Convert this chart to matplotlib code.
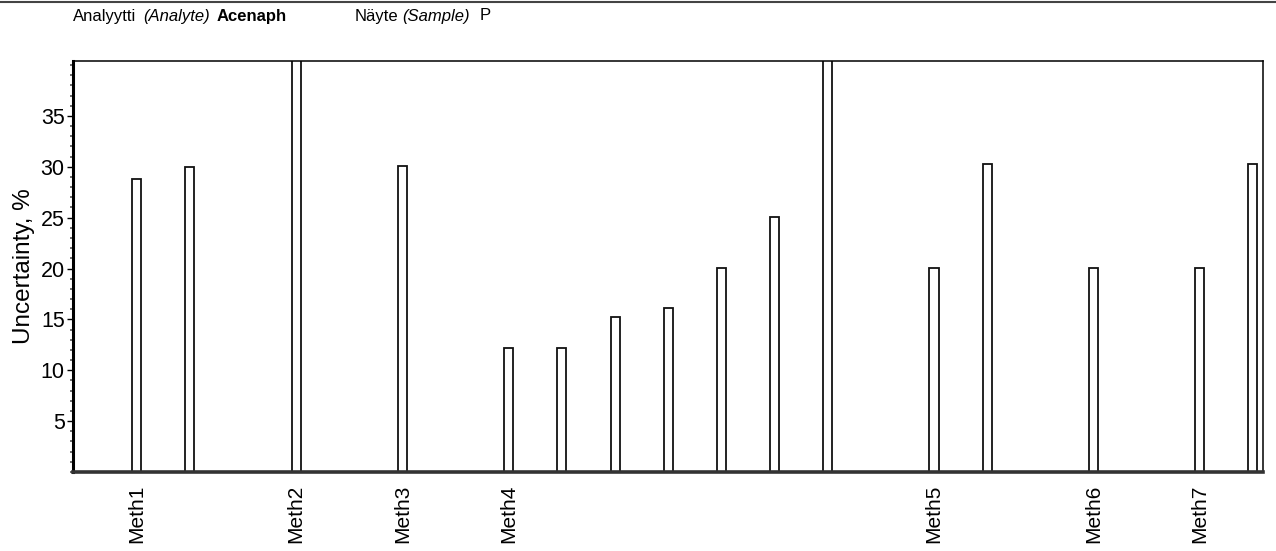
import matplotlib
matplotlib.use("Agg")
import matplotlib.pyplot as plt
from matplotlib.ticker import MultipleLocator

plt.rcParams["font.family"] = ["Liberation Sans", "DejaVu Sans"]

# slot index of each method bar along the x axis
slots = [0, 1, 3, 5, 7, 8, 9, 10, 11, 12, 13, 15, 16, 18, 20, 21]
# uncertainty, % (two bars run past the top of the axis)
values = [28.8, 30.0, 50.0, 30.1, 12.2, 12.2, 15.2, 16.1, 20.1, 25.1, 50.0,
          20.1, 30.3, 20.1, 20.1, 30.3]
tick_labels = ["Meth1", "", "Meth2", "Meth3", "Meth4", "", "", "", "", "", "",
               "Meth5", "", "Meth6", "Meth7", ""]
y_ticks = [5, 10, 15, 20, 25, 30, 35]

W, H = 1276, 551
fig = plt.figure(figsize=(W / 100, H / 100), dpi=100)
ax = fig.add_axes([73 / W, (H - 472) / H, 1190 / W, 411 / H])

ax.bar(slots, values, width=0.17, color="white", edgecolor="#111111",
       linewidth=1.3, zorder=2)

ax.set_xlim(-1.2, 21.19)
ax.set_ylim(0, 40.4)

ax.set_xticks(slots)
ax.set_xticklabels(tick_labels, rotation=90, fontsize=15)
ax.tick_params(axis="x", length=0, pad=9)

ax.set_yticks(y_ticks)
ax.set_yticklabels([str(t) for t in y_ticks], fontsize=15.5)
ax.yaxis.set_minor_locator(MultipleLocator(1))
ax.tick_params(axis="y", which="major", direction="out", length=4, width=1, pad=2)
ax.tick_params(axis="y", which="minor", direction="out", length=2, width=1.2,
               color="#555555")
ax.set_ylabel("Uncertainty, %", fontsize=17.5, labelpad=4)

for side in ["top", "right"]:
    ax.spines[side].set_linewidth(1.1)
ax.spines["left"].set_linewidth(2.2)
ax.spines["bottom"].set_linewidth(2.6)
ax.spines["bottom"].set_color("#333333")

# header line above the plot
hy = 1 - 16 / H
fig.text(73 / W, hy, "Analyytti", fontsize=12, va="center")
fig.text(143 / W, hy, "(Analyte)", fontsize=12, style="italic", va="center")
fig.text(217 / W, hy, "Acenaph", fontsize=12, weight="bold", va="center")
fig.text(355 / W, hy, "Näyte", fontsize=12, va="center")
fig.text(402 / W, hy, "(Sample)", fontsize=12, style="italic", va="center")
fig.text(480 / W, hy, "P", fontsize=12, va="center")

# rule along the top edge of the page
fig.add_artist(plt.Line2D([0, 1], [1 - 1.5 / H, 1 - 1.5 / H],
                          transform=fig.transFigure, color="#444444", linewidth=1.5))

fig.savefig("out.png", dpi=100)
